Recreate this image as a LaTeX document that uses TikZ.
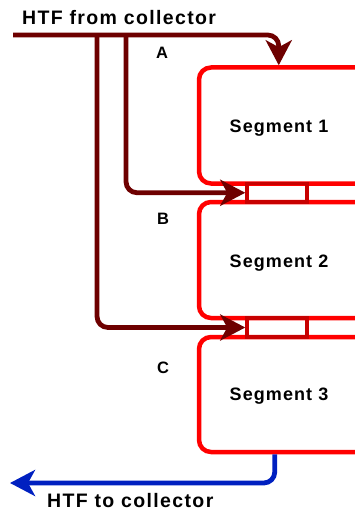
\documentclass[tikz,border=0pt]{standalone}
\usepackage{fontspec}
\setmainfont{Liberation Sans}
\usetikzlibrary{arrows.meta,calc}
\definecolor{pipe}{RGB}{110,0,0}
\definecolor{segred}{RGB}{255,0,0}
\definecolor{connred}{RGB}{200,0,0}
\definecolor{retblue}{RGB}{0,32,192}
\tikzset{
  segbox/.style={draw=segred, line width=4.5pt, rounded corners=12pt, minimum width=171pt, inner sep=0pt},
  connbox/.style={draw=connred, line width=3.5pt, minimum width=60pt, inner sep=0pt},
  flow/.style={draw=pipe, line width=4.8pt, rounded corners=11pt, -{Stealth[length=25pt,width=26pt,inset=7pt]}},
  retflow/.style={draw=retblue, line width=4.8pt, rounded corners=11pt, -{Stealth[length=25pt,width=26pt,inset=7pt]}},
  lbl/.style={font=\fontsize{19.5}{22}\selectfont\bfseries\addfontfeature{LetterSpace=7}, inner sep=0pt},
  seglbl/.style={font=\fontsize{18}{22}\selectfont\bfseries\addfontfeature{LetterSpace=6}, inner sep=0pt, anchor=base},
  letter/.style={font=\fontsize{16.5}{18}\selectfont\bfseries, inner sep=0pt, anchor=base}
}
\begin{document}
\begin{tikzpicture}[x=1pt,y=-1pt]
\useasboundingbox (0,0) rectangle (355,513);
\clip (0,0) rectangle (355,513);
% segments
\node[segbox, minimum height=116pt] (seg1) at (284.5,125.5) {};
\node[segbox, minimum height=116pt] (seg2) at (284.5,260) {};
\node[segbox, minimum height=115pt] (seg3) at (284.5,394.5) {};
% connectors between segments
\node[connbox, minimum height=18.5pt] (cB) at (277,192.75) {};
\node[connbox, minimum height=19pt] (cC) at (277,327.5) {};
% texts
\node[seglbl] (t1) at (279,133) {Segment 1};
\node[seglbl] (t2) at (279,267) {Segment 2};
\node[seglbl] (t3) at (279,400) {Segment 3};
\node[letter] (lA) at (162,58.5) {A};
\node[letter] (lB) at (163,224) {B};
\node[letter] (lC) at (163,373) {C};
\node[lbl, anchor=base west] (tin) at (22,25) {HTF from collector};
\node[lbl, anchor=base west] (tout) at (47,507) {HTF to collector};
% pipes
\coordinate (in) at (13,35);
\coordinate (jC) at (97,35);
\coordinate (jB) at (126,35);
\coordinate (out) at (10,483);
\draw[flow] (in) -| ([xshift=82pt]seg1.north west);
\draw[flow] (jB) |- (cB.west);
\draw[flow] (jC) |- (cC.west);
\draw[retflow] ([xshift=78pt]seg3.south west) |- (out);
\end{tikzpicture}
\end{document}
